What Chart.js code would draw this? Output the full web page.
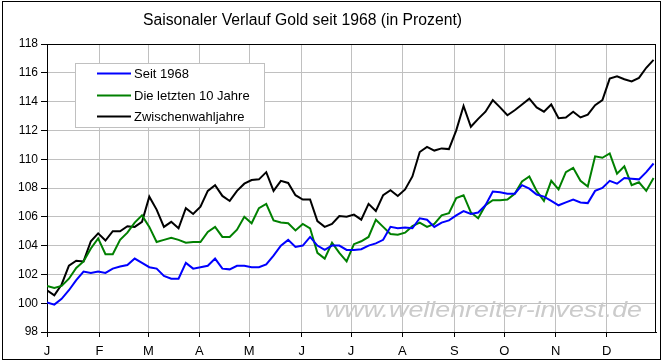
<!DOCTYPE html>
<html>
<head>
<meta charset="utf-8">
<script src="https://cdn.jsdelivr.net/npm/chart.js@4.4.1/dist/chart.umd.min.js"></script>
<style>
    html, body { margin: 0; padding: 0; background: #fff; }
    #wrap { width: 664px; height: 362px; }
</style>
</head>
<body>
<div id="wrap"><canvas id="goldChart" width="664" height="362"></canvas></div>
<script>
// trading-day position of each month start (about 250 trading days per year)
const monthStarts = [0, 21.5, 41.6, 62.5, 83, 104.6, 124.8, 145.9, 167.2, 187.7, 208.8, 229.8]
const monthLabels = ['J', 'F', 'M', 'A', 'M', 'J', 'J', 'A', 'S', 'O', 'N', 'D']
const dayStep = 3   // one reading every 3 trading days
const yearDays = 250

const seriesNames = ['Seit 1968', 'Die letzten 10 Jahre', 'Zwischenwahljahre']
const seriesColors = ['#0000ff', '#008000', '#000000']

const seit1968 = [
    100.05, 99.9, 100.3, 100.9, 101.6, 102.2, 102.1, 102.2, 102.1, 102.4,
    102.55, 102.65, 103.1, 102.8, 102.5, 102.4, 101.9, 101.7, 101.7, 102.8,
    102.4, 102.5, 102.6, 103.1, 102.4, 102.35, 102.6, 102.6, 102.5, 102.5,
    102.7, 103.3, 104.0, 104.4, 103.9, 104.0, 104.6, 104.0, 103.7, 104.0,
    104.0, 103.7, 103.7, 103.75, 104.0, 104.15, 104.4, 105.3, 105.2, 105.25,
    105.2, 105.9, 105.8, 105.3, 105.6, 105.75, 106.1, 106.4, 106.2, 106.3,
    106.8, 107.75, 107.7, 107.6, 107.6, 108.2, 107.95, 107.55, 107.4, 107.1,
    106.8, 107.0, 107.2, 107.0, 106.95, 107.8, 108.0, 108.5, 108.3, 108.7,
    108.65, 108.6, 109.1, 109.7
]

const letzte10 = [
    101.2, 101.05, 101.2, 101.7, 102.45, 102.9, 103.8, 104.5, 103.4, 103.4,
    104.4, 104.9, 105.6, 106.1, 105.3, 104.25, 104.4, 104.55, 104.4, 104.2,
    104.25, 104.25, 104.95, 105.3, 104.6, 104.6, 105.1, 106.0, 105.55, 106.6,
    106.9, 105.75, 105.6, 105.55, 105.05, 105.5, 105.2, 103.5, 103.1, 104.2,
    103.5, 102.9, 104.1, 104.3, 104.6, 105.8, 105.3, 104.8, 104.75, 104.9,
    105.35, 105.6, 105.3, 105.5, 106.1, 106.25, 107.3, 107.5, 106.3, 105.9,
    106.8, 107.15, 107.15, 107.2, 107.6, 108.45, 108.8, 107.8, 107.1, 108.5,
    107.9, 109.1, 109.4, 108.5, 108.1, 110.2, 110.1, 110.4, 109.0, 109.5,
    108.2, 108.4, 107.8, 108.7
]

const zwischenwahl = [
    100.9, 100.55, 101.3, 102.6, 102.95, 102.9, 104.3, 104.85, 104.35, 105.0,
    105.0, 105.35, 105.3, 105.65, 107.4, 106.5, 105.3, 105.65, 105.2, 106.6,
    106.2, 106.7, 107.8, 108.2, 107.45, 107.1, 107.8, 108.3, 108.55, 108.6,
    109.1, 107.8, 108.5, 108.35, 107.5, 107.2, 107.2, 105.7, 105.3, 105.5,
    106.05, 106.0, 106.15, 105.8, 106.9, 106.4, 107.5, 107.85, 107.45, 107.9,
    108.8, 110.5, 110.85, 110.6, 110.75, 110.7, 112.0, 113.7, 112.25, 112.8,
    113.3, 114.1, 113.6, 113.05, 113.4, 113.8, 114.2, 113.6, 113.3, 113.8,
    112.85, 112.9, 113.3, 112.9, 113.1, 113.75, 114.1, 115.6, 115.75, 115.55,
    115.4, 115.65, 116.35, 116.9
]

const font = '"Liberation Sans", Arial, sans-serif'

function toPoints(values) {
    return values.map((v, i) => ({ x: i * dayStep, y: v }))
}

// title, legend box, watermark and frames drawn by hand
const decorations = {
    id: 'decorations',
    beforeDraw(chart) {
        const ctx = chart.ctx
        ctx.save()
        ctx.fillStyle = '#fff'
        ctx.fillRect(0, 0, chart.width, chart.height)
        ctx.restore()
    },
    beforeDatasetsDraw(chart) {
        const { ctx, chartArea: a } = chart
        ctx.save()
        // watermark
        const mark = 'www.wellenreiter-invest.de'
        ctx.font = 'italic 22px ' + font
        ctx.fillStyle = '#cbcbcb'
        const mw = ctx.measureText(mark).width
        ctx.translate(325, 317)
        ctx.scale(317 / mw, 1)
        ctx.fillText(mark, 0, 0)
        ctx.restore()

        ctx.save()
        ctx.strokeStyle = '#000'
        ctx.lineWidth = 1
        ctx.strokeRect(Math.round(a.left) + 0.5, Math.round(a.top) + 0.5,
            Math.round(a.right - a.left) - 1, Math.round(a.bottom - a.top))
        ctx.restore()
    },
    afterDraw(chart) {
        const ctx = chart.ctx
        ctx.save()
        // outer frame
        ctx.strokeStyle = '#000'
        ctx.lineWidth = 1
        ctx.strokeRect(2.5, 1.5, 658, 358)

        // title
        const title = 'Saisonaler Verlauf Gold seit 1968 (in Prozent)'
        ctx.font = '16px ' + font
        ctx.fillStyle = '#000'
        const tw = ctx.measureText(title).width
        ctx.save()
        ctx.translate(143, 25)
        ctx.scale(319 / tw, 1)
        ctx.fillText(title, 0, 0)
        ctx.restore()

        // legend box
        ctx.fillStyle = '#fff'
        ctx.fillRect(76, 64, 188, 63)
        ctx.strokeStyle = '#c0c0c0'
        ctx.strokeRect(75.5, 63.5, 189, 64)
        ctx.font = '13px ' + font
        ctx.textBaseline = 'middle'
        const rows = [73.5, 95.5, 116.5]
        chart.data.datasets.forEach((ds, i) => {
            ctx.strokeStyle = ds.borderColor
            ctx.lineWidth = 2
            ctx.beginPath()
            ctx.moveTo(97, rows[i])
            ctx.lineTo(131, rows[i])
            ctx.stroke()
            ctx.fillStyle = '#000'
            ctx.fillText(ds.label, 134, rows[i] + 0.5)
        })
        ctx.restore()
    }
}

const ctx = document.getElementById('goldChart')
const goldChart = new Chart(ctx, {
    type: 'line',
    data: {
        datasets: [seit1968, letzte10, zwischenwahl].map((vals, i) => ({
            label: seriesNames[i],
            data: toPoints(vals),
            borderColor: seriesColors[i],
            backgroundColor: seriesColors[i],
            borderWidth: 2,
            pointRadius: 0,
            tension: 0,
            fill: false,
        })),
    },
    options: {
        responsive: false,
        animation: false,
        events: [],
        layout: { padding: { left: 0, right: 8, top: 44, bottom: 0 } },
        plugins: {
            legend: { display: false },
            title: { display: false },
            tooltip: { enabled: false },
        },
        scales: {
            x: {
                type: 'linear',
                min: 0,
                max: yearDays,
                afterBuildTicks: (scale) => {
                    scale.ticks = monthStarts.map(v => ({ value: v }))
                },
                afterFit: (scale) => { scale.height = 30 },
                grid: { color: '#c0c0c0', tickColor: '#000', tickLength: 5 },
                border: { color: '#000', width: 1 },
                ticks: {
                    autoSkip: false,
                    maxRotation: 0,
                    padding: 7,
                    color: '#000',
                    font: { family: font, size: 13 },
                    callback: (value, index) => monthLabels[index],
                },
            },
            y: {
                min: 98,
                max: 118,
                afterFit: (scale) => { scale.width = 47 },
                grid: { color: '#c0c0c0', tickColor: '#000', tickLength: 6 },
                border: { color: '#000', width: 1 },
                ticks: {
                    stepSize: 2,
                    padding: 3,
                    color: '#000',
                    font: { family: font, size: 12 },
                },
            },
        },
    },
    plugins: [decorations],
})
</script>
</body>
</html>
